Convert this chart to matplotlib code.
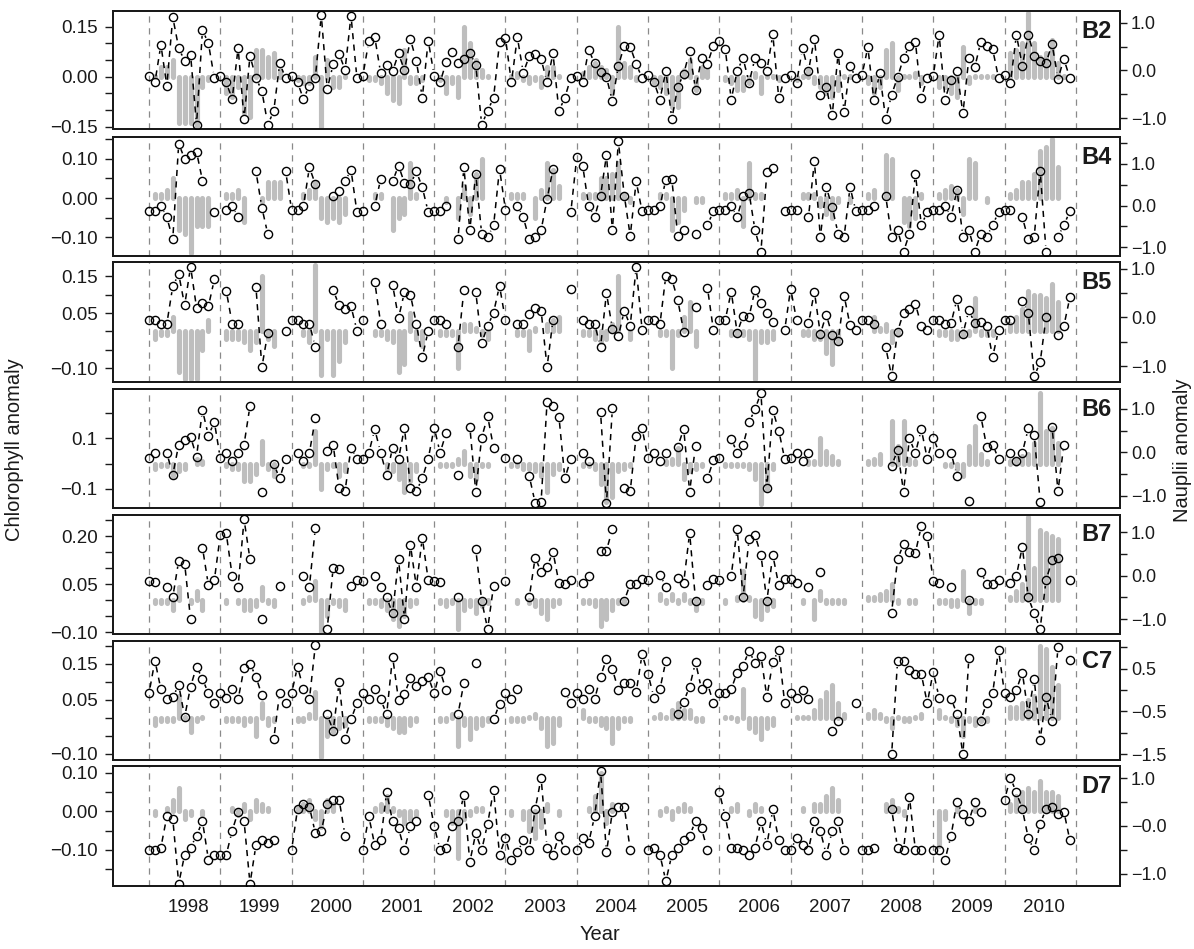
import numpy as np
import matplotlib
matplotlib.use("Agg")
import matplotlib.pyplot as plt
from matplotlib.lines import Line2D
from matplotlib.transforms import IdentityTransform

plt.rcParams['font.family'] = ['Liberation Sans', 'DejaVu Sans']

n = np.nan
years = list(range(1998, 2011))
stations = ["B2", "B4", "B5", "B6", "B7", "C7", "D7"]

# ---------------- B2 ----------------
B2_chl = [
    [n, 0.0, 0.03, 0.03, 0.05, -0.14, -0.14, -0.14, -0.15, -0.03, -0.01, n],
    [n, -0.05, -0.06, -0.03, -0.11, -0.12, 0.08, 0.08, 0.06, 0.07, 0.02, n],
    [n, -0.01, -0.02, -0.02, 0.06, -0.15, 0.05, -0.03, -0.03, 0.0, n, n],
    [n, -0.01, -0.01, -0.02, -0.05, -0.07, -0.08, 0.08, -0.02, -0.02, -0.01, n],
    [n, -0.01, -0.05, -0.02, -0.06, 0.15, 0.10, 0.05, 0.02, 0.0, n, n],
    [n, 0.0, 0.01, -0.01, -0.02, -0.01, -0.03, 0.03, 0.03, 0.0, n, n],
    [n, 0.01, 0.03, 0.04, 0.03, 0.02, -0.05, 0.15, 0.04, 0.03, -0.01, n],
    [n, -0.02, -0.03, -0.05, -0.09, -0.09, 0.02, 0.05, -0.04, 0.03, 0.02, n],
    [n, -0.01, -0.02, -0.04, -0.04, -0.02, 0.01, -0.05, 0.0, 0.0, -0.01, n],
    [n, -0.01, 0.0, 0.02, -0.02, -0.03, -0.05, -0.06, -0.04, 0.0, 0.0, n],
    [n, -0.02, -0.05, -0.03, 0.08, 0.10, -0.04, 0.0, 0.0, 0.01, -0.02, n],
    [n, -0.03, -0.03, -0.05, -0.06, 0.09, -0.02, 0.0, 0.0, 0.0, 0.0, n],
    [n, 0.07, 0.08, 0.10, 0.19, 0.10, 0.06, 0.07, 0.11, 0.04, 0.0, n],
]
B2_naup = [
    [-0.11, -0.25, 0.54, -0.32, 1.12, 0.47, 0.20, 0.33, -1.14, 0.85, 0.57, -0.16],
    [-0.11, -0.25, -0.60, 0.48, -1.02, 0.31, -0.16, -0.43, -1.14, -0.85, 0.15, -0.16],
    [-0.11, -0.25, -0.60, -0.32, -0.15, 1.16, -0.39, 0.13, 0.35, 0.01, 1.15, -0.16],
    [-0.11, 0.62, 0.70, -0.06, 0.12, -0.02, 0.36, 0.0, 0.66, 0.20, -0.57, 0.63],
    [-0.11, -0.25, 0.17, 0.38, 0.15, 0.24, 0.37, 0.12, -1.14, -0.85, -0.57, 0.59],
    [0.68, -0.25, 0.70, -0.05, 0.30, 0.34, 0.24, -0.25, 0.36, -0.85, -0.57, -0.15],
    [-0.11, -0.25, 0.44, 0.15, -0.04, -0.14, -0.65, 0.10, 0.52, 0.50, 0.14, -0.16],
    [-0.10, -0.24, -0.61, -0.01, -1.02, -0.35, -0.07, 0.40, -0.40, 0.26, 0.14, 0.52],
    [0.63, 0.45, -0.61, -0.01, 0.26, -0.26, 0.26, 0.16, -0.01, 0.76, -0.58, -0.16],
    [-0.10, -0.26, 0.47, -0.01, 0.67, -0.51, -0.35, -0.94, 0.37, -0.87, 0.10, -0.16],
    [-0.10, 0.49, -0.61, -0.06, -1.02, -0.51, -0.14, 0.26, 0.52, 0.60, -0.57, -0.16],
    [-0.12, 0.75, -0.61, -0.19, -0.02, -0.90, 0.26, 0.07, 0.60, 0.51, 0.45, -0.16],
    [-0.10, -0.26, 0.75, 0.10, 0.75, 0.30, 0.19, 0.16, 0.56, -0.17, 0.24, -0.16],
]

# ---------------- B4 ----------------
B4_chl = [
    [n, 0.01, 0.01, 0.02, 0.05, -0.08, -0.09, -0.14, -0.07, -0.07, -0.07, n],
    [n, 0.01, 0.01, 0.02, -0.06, 0.0, 0.0, -0.01, 0.04, 0.04, 0.04, n],
    [n, 0.0, 0.01, 0.02, 0.04, -0.05, -0.06, -0.05, -0.06, -0.04, 0.0, n],
    [n, 0.0, 0.01, 0.01, 0.0, -0.08, -0.05, -0.04, 0.09, 0.01, 0.0, n],
    [n, 0.0, -0.01, 0.0, -0.05, 0.03, -0.04, 0.06, 0.10, 0.0, 0.0, n],
    [n, 0.01, 0.01, 0.01, 0.0, -0.05, 0.02, 0.09, 0.07, 0.03, 0.0, n],
    [n, 0.01, 0.01, 0.01, 0.05, 0.05, 0.06, 0.09, 0.01, -0.01, 0.0, n],
    [n, 0.0, 0.01, 0.01, -0.08, -0.06, -0.03, 0.0, -0.01, -0.01, 0.0, n],
    [n, 0.01, 0.01, 0.02, -0.07, 0.09, 0.01, 0.01, 0.0, 0.0, 0.0, n],
    [n, 0.0, 0.01, 0.01, 0.01, -0.02, -0.04, -0.05, -0.01, 0.0, -0.01, n],
    [n, 0.01, 0.02, 0.0, 0.11, 0.10, 0.0, -0.06, -0.07, -0.05, 0.01, n],
    [n, 0.01, 0.02, 0.03, 0.02, -0.04, 0.10, 0.09, 0.0, -0.01, 0.0, n],
    [n, 0.01, 0.02, 0.04, 0.04, 0.06, 0.12, 0.13, 0.15, 0.08, 0.0, n],
]
B4_naup = [
    [-0.12, -0.12, -0.01, -0.28, -0.81, 1.49, 1.12, 1.22, 1.29, 0.60, n, -0.16],
    [n, -0.10, -0.01, -0.28, n, n, 0.82, -0.05, -0.69, n, n, 0.82],
    [-0.10, -0.10, -0.01, 0.92, 0.51, n, n, 0.23, 0.35, 0.58, 0.86, -0.16],
    [-0.12, n, -0.01, 0.64, n, 0.58, 0.96, 0.54, 0.51, 0.82, 0.44, -0.16],
    [-0.12, -0.12, -0.01, n, -0.81, 0.92, -0.59, 0.76, -0.69, -0.75, -0.48, 0.88],
    [-0.10, n, -0.01, -0.28, -0.81, -0.75, -0.59, 0.15, 0.88, n, n, -0.16],
    [1.16, 0.96, -0.01, -0.28, 0.23, 1.21, -0.59, 1.54, 0.24, -0.73, 0.58, -0.14],
    [-0.10, -0.10, -0.01, 0.62, 0.63, -0.73, -0.59, n, -0.69, n, -0.47, -0.14],
    [-0.10, -0.10, -0.01, -0.28, 0.23, 0.31, -0.59, -1.11, 0.80, 0.90, n, -0.14],
    [-0.10, -0.10, n, -0.28, 1.06, -0.75, 0.44, -0.04, -0.68, -0.75, 0.44, -0.14],
    [-0.10, -0.10, -0.01, n, 0.23, -0.75, -0.59, -1.11, -0.68, 0.76, -0.47, -0.16],
    [-0.10, -0.10, -0.01, -0.28, 0.38, -0.75, -0.59, -1.11, -0.68, -0.75, -0.47, -0.16],
    [-0.10, -0.10, n, -0.28, -0.81, -0.75, 0.84, -1.11, n, -0.75, -0.47, -0.14],
]

# ---------------- B5 ----------------
B5_chl = [
    [n, -0.02, -0.01, -0.01, 0.04, -0.11, -0.13, -0.13, -0.13, -0.05, 0.03, n],
    [n, -0.02, -0.02, -0.02, -0.03, -0.05, -0.03, 0.15, -0.02, -0.04, n, n],
    [n, 0.0, -0.01, -0.03, 0.18, -0.12, -0.02, -0.12, -0.08, -0.03, n, n],
    [n, 0.0, -0.01, -0.01, -0.02, -0.03, -0.11, -0.09, 0.05, -0.02, -0.04, n],
    [n, -0.01, -0.01, -0.01, -0.10, 0.02, 0.02, 0.01, -0.01, -0.02, n, n],
    [n, 0.0, -0.01, -0.01, -0.05, 0.01, 0.0, 0.02, 0.03, 0.04, n, n],
    [n, -0.01, -0.01, -0.02, -0.03, -0.02, 0.02, 0.15, 0.0, -0.02, n, n],
    [n, 0.0, -0.01, -0.01, -0.10, -0.01, 0.04, 0.08, -0.04, 0.0, n, n],
    [n, 0.0, -0.01, -0.01, -0.01, -0.02, -0.13, -0.03, -0.03, -0.02, n, n],
    [n, 0.0, -0.01, -0.01, -0.02, -0.02, -0.06, -0.09, -0.03, 0.0, n, n],
    [n, 0.0, 0.04, 0.01, 0.02, -0.03, -0.01, 0.0, 0.0, 0.0, n, n],
    [n, -0.01, -0.01, -0.02, -0.02, -0.01, -0.01, 0.09, -0.01, -0.01, -0.01, n],
    [n, 0.02, 0.04, 0.06, 0.11, 0.10, 0.10, 0.09, 0.13, 0.08, n, n],
]
B5_naup = [
    [-0.06, -0.06, -0.13, -0.13, 0.64, 0.89, 0.25, 1.04, 0.20, 0.30, 0.23, 0.78],
    [n, 0.55, -0.13, -0.13, n, n, 0.63, -1.02, -0.31, n, n, -0.27],
    [-0.06, -0.06, -0.13, -0.13, -0.61, n, n, 0.56, 0.25, 0.18, 0.23, -0.27],
    [-0.06, n, 0.73, -0.13, n, 0.67, -0.01, 0.52, 0.47, -0.13, -0.82, -0.27],
    [-0.06, -0.06, -0.13, n, -0.61, 0.56, n, 0.52, -0.52, -0.18, 0.10, 0.65],
    [-0.06, n, -0.13, -0.13, 0.08, 0.19, 0.14, -1.02, -0.05, n, n, 0.59],
    [n, -0.06, -0.13, -0.13, -0.61, 0.50, -0.23, -0.39, 0.14, -0.17, 1.03, -0.26],
    [-0.05, -0.05, -0.14, 0.86, 0.79, 0.36, -0.29, n, 0.22, n, 0.61, -0.26],
    [-0.05, -0.05, 0.53, -0.31, 0.03, 0.01, 0.57, 0.30, 0.10, -0.10, n, -0.26],
    [0.59, -0.05, n, -0.12, 0.53, -0.34, 0.06, -0.37, -0.48, 0.45, -0.16, -0.26],
    [-0.05, -0.05, -0.14, n, -0.61, -1.21, -0.29, 0.10, 0.17, 0.28, -0.17, -0.26],
    [-0.05, -0.05, -0.14, -0.12, 0.38, -0.34, 0.15, -0.12, -0.10, -0.17, -0.81, -0.26],
    [-0.05, -0.05, n, 0.33, 0.10, -1.21, -0.92, 0.01, n, -0.36, -0.17, 0.41],
]

# ---------------- B6 ----------------
B6_chl = [
    [n, -0.02, -0.01, -0.01, -0.05, -0.03, -0.02, 0.0, 0.02, 0.01, n, n],
    [n, -0.01, -0.02, -0.02, -0.07, -0.07, -0.04, 0.09, -0.02, -0.05, n, n],
    [n, 0.0, -0.01, -0.01, 0.13, -0.10, -0.02, -0.01, -0.05, -0.03, n, n],
    [n, 0.0, 0.0, 0.0, -0.02, -0.03, -0.06, -0.11, -0.07, -0.03, n, n],
    [n, -0.01, -0.01, -0.01, 0.02, 0.05, -0.05, -0.06, -0.01, -0.01, n, n],
    [n, -0.01, -0.01, -0.02, -0.02, -0.03, -0.05, -0.11, -0.04, -0.02, n, n],
    [n, -0.01, -0.01, -0.02, -0.08, -0.15, -0.13, -0.03, -0.02, -0.01, n, n],
    [n, 0.0, 0.0, 0.01, 0.02, 0.06, -0.06, -0.03, -0.02, -0.01, n, n],
    [n, -0.01, -0.01, -0.01, -0.01, -0.02, -0.06, -0.16, -0.10, -0.02, n, n],
    [n, 0.0, 0.0, 0.01, 0.01, 0.10, 0.05, 0.03, 0.01, 0.0, n, n],
    [n, 0.01, 0.02, 0.04, 0.0, 0.17, 0.07, 0.17, 0.02, 0.01, n, n],
    [n, 0.0, -0.01, -0.01, -0.02, -0.05, 0.07, 0.15, 0.04, 0.01, n, n],
    [n, 0.01, 0.02, 0.03, 0.04, 0.08, 0.28, 0.13, 0.14, 0.08, n, n],
]
B6_naup = [
    [-0.14, -0.01, n, -0.01, -0.52, 0.18, 0.28, 0.36, -0.10, 0.97, 0.38, 0.70],
    [-0.14, -0.01, -0.20, -0.01, 0.18, 1.07, n, -0.90, n, -0.27, -0.60, -0.15],
    [n, -0.01, -0.20, -0.01, 0.78, n, 0.04, 0.17, -0.83, -0.89, 0.11, -0.15],
    [-0.15, -0.01, 0.53, -0.01, -0.52, 0.11, -0.15, 0.57, -0.81, -0.89, -0.60, -0.15],
    [0.57, -0.01, 0.44, n, -0.52, n, 0.59, -0.90, 0.34, 0.83, 0.11, n],
    [-0.14, n, -0.15, n, -0.54, -1.16, -1.13, 1.15, 1.07, 0.82, -0.60, -0.15],
    [n, -0.01, -0.20, n, 0.93, -1.17, 1.01, n, -0.81, -0.89, 0.38, 0.55],
    [-0.14, -0.01, -0.20, -0.01, n, 0.13, 0.54, -0.90, 0.15, n, -0.60, -0.18],
    [-0.12, n, 0.31, -0.01, 0.17, 0.69, 0.99, 1.36, -0.81, 0.97, 0.50, -0.15],
    [-0.12, -0.01, -0.20, -0.01, n, n, n, n, n, n, n, n],
    [n, n, n, n, n, -0.31, 0.05, -0.90, 0.32, -0.02, 0.53, -0.15],
    [0.34, -0.01, n, -0.01, -0.54, n, -1.12, n, 0.84, 0.13, 0.18, -0.15],
    [n, -0.01, -0.20, -0.01, 0.55, 0.40, -1.13, n, 0.59, -0.89, 0.18, n],
]

# ---------------- B7 ----------------
B7_chl = [
    [n, -0.01, -0.01, -0.01, -0.03, 0.04, 0.0, -0.01, 0.03, -0.03, n, n],
    [n, -0.01, 0.0, -0.01, -0.03, -0.03, -0.02, 0.04, -0.01, -0.02, n, n],
    [n, 0.0, -0.01, 0.01, 0.06, -0.10, -0.05, -0.01, -0.02, -0.03, n, n],
    [n, -0.01, -0.01, -0.02, -0.03, -0.06, -0.08, -0.05, -0.02, -0.01, n, n],
    [n, -0.01, -0.02, -0.01, -0.09, -0.03, -0.02, -0.04, -0.02, -0.01, n, n],
    [n, 0.0, -0.01, 0.0, -0.01, -0.02, -0.04, -0.06, -0.02, -0.01, n, n],
    [n, -0.01, -0.01, -0.02, -0.08, -0.06, -0.03, -0.01, -0.01, 0.0, n, n],
    [n, 0.0, 0.02, -0.01, 0.02, -0.01, 0.02, -0.01, -0.03, -0.01, n, n],
    [n, -0.01, 0.0, 0.01, 0.09, 0.01, -0.05, -0.06, -0.03, -0.02, n, n],
    [n, 0.0, -0.01, 0.0, -0.06, 0.03, -0.01, -0.01, -0.01, -0.01, n, n],
    [n, 0.01, 0.01, 0.02, 0.03, 0.05, -0.01, 0.0, -0.01, -0.01, n, n],
    [n, -0.01, -0.01, -0.02, -0.02, 0.09, -0.04, -0.01, -0.01, 0.0, n, n],
    [n, 0.01, 0.03, 0.05, 0.26, 0.10, 0.22, 0.21, 0.20, 0.19, n, n],
]
B7_naup = [
    [-0.12, -0.15, n, -0.25, -0.50, 0.35, 0.28, -1.01, n, 0.65, -0.22, -0.10],
    [0.94, 0.98, 0.0, -0.25, 1.30, 0.38, n, -1.01, n, n, -0.23, n],
    [n, n, 0.0, -0.25, 1.11, n, -1.22, 0.19, 0.15, n, -0.23, -0.10],
    [-0.12, n, 0.0, -0.25, -0.50, -0.87, 0.38, -1.01, 0.71, -0.25, 0.88, -0.10],
    [-0.12, -0.15, n, n, -0.50, n, n, 0.61, -0.58, -1.23, -0.23, n],
    [-0.12, n, n, n, -0.50, 0.42, 0.09, 0.21, 0.55, -0.16, -0.19, -0.10],
    [n, -0.16, 0.0, n, 0.58, 0.58, 1.08, n, -0.58, -0.19, -0.19, -0.08],
    [-0.10, n, 0.02, -0.25, n, -0.06, -0.16, 0.99, -0.58, n, -0.22, -0.08],
    [-0.10, n, 0.0, 1.09, -0.50, 0.86, 0.94, 0.48, -0.58, 0.48, -0.22, -0.08],
    [-0.08, -0.16, n, -0.25, n, 0.08, n, n, n, n, n, n],
    [n, n, n, n, n, -0.85, 0.38, 0.73, 0.55, 0.53, 1.15, 0.92],
    [-0.12, -0.16, n, -0.25, n, n, -0.55, n, 0.09, -0.19, -0.19, -0.10],
    [n, -0.16, 0.0, 0.67, -0.50, -0.87, -1.22, -0.10, 0.36, 0.40, n, -0.10],
]

# ---------------- C7 ----------------
C7_chl = [
    [n, -0.02, -0.01, -0.01, -0.01, 0.06, 0.0, -0.04, -0.01, 0.0, n, n],
    [n, -0.01, -0.01, -0.01, -0.02, -0.01, -0.05, 0.04, -0.02, -0.01, n, n],
    [n, -0.01, -0.01, 0.01, 0.07, -0.11, -0.05, -0.04, -0.03, -0.02, n, n],
    [n, -0.01, -0.01, -0.01, -0.02, -0.03, -0.04, -0.04, -0.02, -0.01, n, n],
    [n, -0.01, -0.01, 0.01, -0.08, -0.02, -0.06, -0.03, -0.02, -0.01, n, n],
    [n, -0.01, -0.01, -0.01, 0.0, 0.01, -0.03, -0.08, -0.07, -0.02, n, n],
    [n, 0.02, -0.01, -0.01, -0.02, -0.03, -0.07, -0.03, -0.01, -0.01, n, n],
    [n, 0.0, 0.01, 0.0, 0.02, 0.04, 0.02, 0.02, -0.01, -0.01, n, n],
    [n, 0.0, 0.0, -0.01, 0.08, -0.03, -0.04, -0.06, -0.03, -0.02, n, n],
    [n, 0.0, 0.0, 0.0, 0.02, 0.05, 0.07, 0.09, 0.04, 0.01, n, n],
    [n, 0.01, 0.02, 0.01, -0.01, -0.03, 0.0, -0.01, -0.01, 0.0, 0.01, n],
    [n, 0.02, 0.0, -0.01, -0.02, -0.05, -0.01, -0.02, -0.01, -0.01, n, n],
    [n, 0.03, 0.03, 0.04, 0.05, 0.06, 0.20, 0.19, 0.14, 0.09, n, n],
]
C7_naup = [
    [-0.08, 0.69, 0.02, -0.22, -0.17, 0.12, -0.63, 0.08, 0.55, 0.26, -0.08, -0.31],
    [-0.08, -0.18, 0.02, -0.22, 0.51, 0.61, 0.31, -0.12, n, -1.15, -0.06, -0.31],
    [-0.08, 0.55, 0.02, -0.22, 1.05, n, -0.57, -0.96, 0.18, -1.15, -0.69, -0.31],
    [-0.08, -0.20, 0.02, -0.22, -0.57, 0.78, -0.23, -0.09, 0.27, 0.10, 0.20, 0.31],
    [-0.08, 0.45, 0.0, n, -0.57, 0.16, n, 0.63, n, n, -0.69, -0.33],
    [-0.08, -0.20, 0.02, n, n, n, n, n, n, n, -0.05, -0.31],
    [-0.08, -0.20, 0.02, -0.22, 0.31, 0.73, 0.49, 0.0, 0.16, 0.16, -0.05, 0.84],
    [0.37, -0.18, 0.02, 0.68, n, -0.56, -0.27, 0.08, 0.65, 0.02, 0.16, -0.31],
    [-0.08, -0.08, 0.02, 0.41, 0.57, 0.92, 0.63, 0.80, -0.16, 0.66, 0.94, -0.31],
    [-0.08, -0.18, 0.0, -0.20, n, n, n, -0.96, -0.72, n, n, -0.31],
    [n, n, n, n, n, -1.51, 0.68, 0.68, 0.47, 0.37, 0.37, -0.31],
    [0.43, -0.18, n, -0.20, -0.56, -1.51, 0.76, n, -0.72, -0.30, -0.08, 0.94],
    [-0.08, -0.17, 0.0, 0.41, -0.56, 0.26, -1.16, -0.17, -0.72, 1.0, n, 0.70],
]

# ---------------- D7 ----------------
D7_chl = [
    [n, -0.01, 0.0, 0.01, 0.03, 0.06, -0.02, -0.01, 0.0, -0.01, n, n],
    [n, 0.0, 0.01, -0.01, 0.02, -0.02, 0.03, 0.02, 0.01, 0.0, n, n],
    [n, 0.01, 0.02, 0.03, -0.02, -0.04, 0.03, 0.02, 0.0, 0.0, n, n],
    [n, 0.0, 0.01, 0.02, 0.04, 0.01, -0.01, -0.03, -0.02, -0.01, n, n],
    [n, 0.0, -0.01, -0.03, -0.12, -0.02, -0.01, 0.01, 0.01, 0.0, n, n],
    [n, -0.01, 0.0, -0.02, -0.05, -0.07, -0.04, 0.02, 0.0, -0.01, n, n],
    [n, 0.0, 0.01, 0.04, 0.10, -0.03, 0.02, 0.0, 0.0, 0.0, n, n],
    [n, 0.0, -0.01, 0.01, -0.02, 0.01, 0.02, 0.01, 0.0, 0.0, n, n],
    [n, 0.0, 0.01, 0.02, 0.0, -0.01, 0.02, 0.01, 0.0, 0.0, n, n],
    [n, 0.0, 0.01, 0.0, 0.02, 0.02, 0.04, 0.06, 0.03, 0.0, n, n],
    [n, 0.0, 0.0, 0.0, 0.02, 0.03, 0.01, -0.01, 0.0, 0.0, n, n],
    [n, -0.09, -0.02, 0.0, 0.01, 0.0, 0.0, 0.01, 0.0, 0.0, n, n],
    [n, 0.02, 0.04, 0.05, 0.06, 0.05, 0.08, 0.05, 0.05, 0.04, n, n],
]
D7_naup = [
    [-0.5, -0.5, -0.45, 0.2, 0.15, -1.2, -0.6, -0.45, -0.2, 0.1, -0.7, -0.6],
    [-0.6, -0.6, -0.1, 0.3, 0.1, -1.2, -0.4, -0.3, -0.35, -0.3, n, n],
    [-0.5, 0.35, 0.45, 0.4, -0.15, -0.1, 0.45, 0.55, 0.55, -0.2, n, n],
    [-0.5, 0.2, -0.4, -0.3, 0.7, 0.1, -0.05, -0.5, 0.0, 0.1, n, 0.65],
    [0.0, -0.5, -0.45, 0.0, 0.1, 0.65, -0.75, -0.15, -0.5, 0.05, 0.75, -0.6],
    [-0.25, -0.7, -0.55, -0.3, -0.5, 0.35, 1.0, -0.45, -0.6, -0.2, -0.5, n],
    [-0.5, -0.25, -0.35, 0.2, 1.15, -0.55, 0.3, 0.4, 0.4, -0.5, n, n],
    [-0.5, -0.45, -0.6, -1.15, -0.6, -0.45, -0.3, -0.2, 0.1, -0.05, -0.5, n],
    [0.7, 0.2, -0.45, -0.45, -0.5, -0.6, -0.45, 0.1, -0.4, 0.35, -0.3, -0.5],
    [-0.5, -0.25, -0.4, -0.5, 0.1, -0.1, -0.6, -0.1, 0.1, -0.5, n, n],
    [-0.5, -0.5, -0.45, n, n, 0.35, -0.45, -0.5, 0.6, -0.5, -0.5, n],
    [-0.5, -0.5, -0.7, -0.2, 0.5, 0.25, 0.1, 0.5, 0.3, n, n, n],
    [0.55, 1.0, 0.7, 0.35, -0.25, -0.5, 0.05, 0.35, 0.4, 0.25, 0.3, -0.3],
]

chl_all = [B2_chl, B4_chl, B5_chl, B6_chl, B7_chl, C7_chl, D7_chl]
naup_all = [B2_naup, B4_naup, B5_naup, B6_naup, B7_naup, C7_naup, D7_naup]

# axis ranges and tick labels
chl_ylims = [(-0.158, 0.197), (-0.147, 0.155), (-0.138, 0.189), (-0.174, 0.295),
             (-0.106, 0.267), (-0.1176, 0.213), (-0.194, 0.118)]
naup_ylims = [(-1.236, 1.25), (-1.214, 1.648), (-1.325, 1.138), (-1.271, 1.455),
              (-1.346, 1.41), (-1.64, 1.148), (-1.25, 1.25)]
chl_ticks = [[-0.15, -0.10, -0.05, 0.0, 0.05, 0.10, 0.15],
             [-0.10, -0.05, 0.0, 0.05, 0.10, 0.15],
             [-0.10, -0.05, 0.0, 0.05, 0.10, 0.15],
             [-0.1, 0.0, 0.1, 0.2],
             [-0.10, -0.05, 0.0, 0.05, 0.10, 0.15, 0.20, 0.25],
             [-0.10, -0.05, 0.0, 0.05, 0.10, 0.15, 0.20],
             [-0.15, -0.10, -0.05, 0.0, 0.05, 0.10]]
chl_labels = [["−0.15", "", "", "0.00", "", "", "0.15"],
              ["−0.10", "", "0.00", "", "0.10", ""],
              ["−0.10", "", "", "0.05", "", "0.15"],
              ["−0.1", "", "0.1", ""],
              ["−0.10", "", "", "0.05", "", "", "0.20", ""],
              ["−0.10", "", "", "0.05", "", "0.15", ""],
              ["", "−0.10", "", "0.00", "", "0.10"]]
naup_ticks = [[-1, -0.5, 0, 0.5, 1],
              [-1, -0.5, 0, 0.5, 1, 1.5],
              [-1, -0.5, 0, 0.5, 1],
              [-1, -0.5, 0, 0.5, 1],
              [-1, -0.5, 0, 0.5, 1],
              [-1.5, -1, -0.5, 0, 0.5, 1],
              [-1, -0.5, 0, 0.5, 1]]
naup_labels = [["−1.0", "", "0.0", "", "1.0"],
               ["−1.0", "", "0.0", "", "1.0", ""],
               ["−1.0", "", "0.0", "", "1.0"],
               ["−1.0", "", "0.0", "", "1.0"],
               ["−1.0", "", "0.0", "", "1.0"],
               ["−1.5", "", "−0.5", "", "0.5", ""],
               ["−1.0", "", "−0.0", "", "1.0"]]

# ---------------- figure ----------------
W, H = 1194, 949
fig = plt.figure(figsize=(W / 100, H / 100), dpi=100)
tops = [11, 137, 262, 389, 514.7, 641, 766]
bots = [129.3, 256, 382, 507.7, 634, 760, 886]
left_px, right_px = 113, 1120
xlim = (1997.495, 2011.62)

months = np.arange(12)
t = np.concatenate([y + months / 12.0 for y in years])

bar_color = "#BEBEBE"
frame_color = "#1a1a1a"

for i, st in enumerate(stations):
    ax = fig.add_axes([left_px / W, 1 - bots[i] / H, (right_px - left_px) / W,
                       (bots[i] - tops[i]) / H])
    ax2 = ax.twinx()
    ax.set_xlim(*xlim)
    ax.set_ylim(*chl_ylims[i])
    ax2.set_ylim(*naup_ylims[i])
    ax2.set_xlim(*xlim)

    chl = np.array(chl_all[i], dtype=float).ravel()
    nau = np.array(naup_all[i], dtype=float).ravel()

    # year separator lines
    for y in years + [2011]:
        ax.axvline(y, color="#8a8a8a", lw=0.9, ls=(0, (5, 4.5)), zorder=1)

    # chlorophyll bars
    ok = np.isfinite(chl)
    top_vals = np.where(np.abs(chl[ok]) < 1e-9, 0.0006, chl[ok])
    lc = ax.vlines(t[ok], 0, top_vals, colors=bar_color, lw=3.7, zorder=2)
    lc.set_capstyle("round")

    # nauplii points
    ax2.plot(t, nau, "o", ms=5.9, mfc="none", mec="black", mew=1.0, zorder=5)

    # spines / ticks
    for a in (ax, ax2):
        for s in a.spines.values():
            s.set_linewidth(1.4)
            s.set_color(frame_color)
    ax.set_yticks(chl_ticks[i])
    ax.set_yticklabels(chl_labels[i])
    ax2.set_yticks(naup_ticks[i])
    ax2.set_yticklabels(naup_labels[i])
    ax.tick_params(axis="y", direction="out", length=6.0, width=1.0, labelsize=13.5,
                   pad=5, colors=frame_color)
    ax2.tick_params(axis="y", direction="out", length=5.0, width=1.0, labelsize=13,
                    pad=3, colors=frame_color)
    ax.set_xticks([y + 0.55 for y in years])
    if i == len(stations) - 1:
        ax.set_xticklabels([str(y) for y in years])
        ax.tick_params(axis="x", length=0, labelsize=13.5, pad=9, colors=frame_color)
    else:
        ax.set_xticklabels([])
        ax.tick_params(axis="x", length=0)
    ax2.tick_params(axis="x", length=0)

    ax.text(0.992, 0.83, st, transform=ax.transAxes, ha="right", va="center",
            fontsize=17, fontweight="bold", color="#1a1a1a", zorder=10)

    # dashed connectors with gaps around points (like R type="b")
    pts = ax2.transData.transform(np.column_stack([t, nau]))
    gap = 6.0
    for k in range(len(t) - 1):
        if np.isfinite(nau[k]) and np.isfinite(nau[k + 1]):
            p0, p1 = pts[k], pts[k + 1]
            d = p1 - p0
            L = np.hypot(d[0], d[1])
            if L > 2 * gap + 0.5:
                u = d / L
                a0 = p0 + u * gap
                b0 = p1 - u * gap
                ln = Line2D([a0[0], b0[0]], [a0[1], b0[1]], transform=IdentityTransform(),
                            color="black", lw=1.1, ls=(0, (4.0, 3.5)), zorder=4)
                ax2.add_artist(ln)

fig.text(600 / W, 1 - 935 / H, "Year", ha="center", va="center", fontsize=14.5,
         color="#1a1a1a")
fig.text(15 / W, 1 - 450 / H, "Chlorophyll anomaly", ha="center", va="center",
         rotation=90, fontsize=14.5, color="#1a1a1a")
fig.text(1183 / W, 1 - 450 / H, "Nauplii anomaly", ha="center", va="center",
         rotation=90, fontsize=14.5, color="#1a1a1a")

fig.savefig("out.png", dpi=100)
